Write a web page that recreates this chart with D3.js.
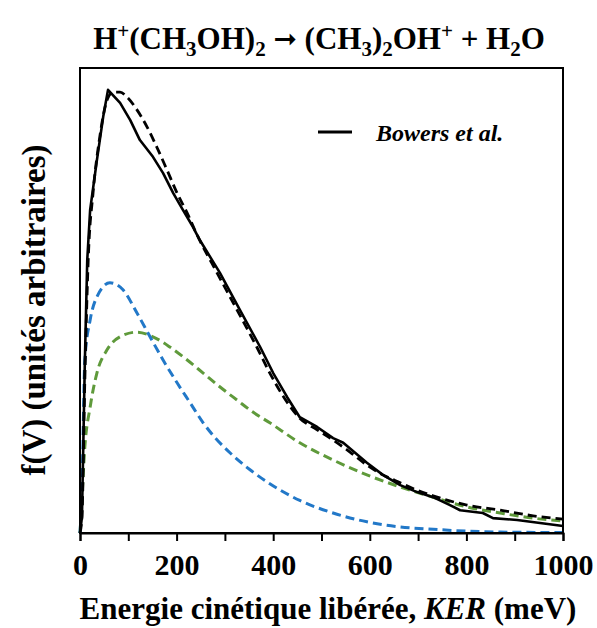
<!DOCTYPE html>
<html>
<head>
<meta charset="utf-8">
<script src="https://cdn.jsdelivr.net/npm/d3@7"></script>
<style>
  html, body { margin: 0; padding: 0; background: #fff; }
  svg { display: block; }
  text { font-family: "Liberation Serif", "Times New Roman", serif; font-weight: bold; fill: #000; }
</style>
</head>
<body>
<svg id="chart" width="597" height="628"></svg>
<script>
// ---- Data ----
const xTickValues = [0, 100, 200, 300, 400, 500, 600, 700, 800, 900, 1000];
const xTickLabels = ["0", "", "200", "", "400", "", "600", "", "800", "", "1000"];

// Bowers et al. (experiment), solid black
const bowersX = [0, 4, 10, 15, 21, 35, 48, 58, 83, 104, 124, 151, 172, 193, 213, 234, 248, 290, 331, 373, 400, 429, 455, 491, 524, 545, 594, 627, 663, 698, 731, 766, 787, 834, 855, 905, 1000];
const bowersY = [0, 0.034, 0.366, 0.587, 0.695, 0.802, 0.895, 0.953, 0.925, 0.888, 0.845, 0.809, 0.774, 0.731, 0.695, 0.658, 0.630, 0.559, 0.480, 0.400, 0.344, 0.292, 0.249, 0.228, 0.204, 0.194, 0.151, 0.125, 0.103, 0.088, 0.077, 0.060, 0.049, 0.043, 0.032, 0.028, 0.015];

// Total fit, dashed black
const fitX = [0, 4, 10, 17, 27, 41, 56, 68, 83, 97, 118, 139, 159, 180, 201, 222, 242, 284, 325, 366, 393, 422, 455, 491, 524, 559, 594, 627, 663, 698, 731, 801, 870, 938, 1000];
const fitY = [0, 0.034, 0.329, 0.587, 0.731, 0.852, 0.931, 0.948, 0.948, 0.938, 0.910, 0.873, 0.830, 0.781, 0.731, 0.688, 0.642, 0.559, 0.480, 0.400, 0.344, 0.292, 0.247, 0.222, 0.200, 0.174, 0.146, 0.125, 0.108, 0.092, 0.080, 0.060, 0.049, 0.037, 0.030];

// Component 1, dashed blue
const blueX = [0, 4, 10, 21, 35, 62, 89, 118, 145, 172, 201, 228, 255, 284, 311, 352, 393, 455, 524, 594, 663, 731, 801, 870, 1000];
const blueY = [0, 0.086, 0.372, 0.458, 0.508, 0.538, 0.523, 0.473, 0.422, 0.372, 0.323, 0.280, 0.237, 0.200, 0.172, 0.136, 0.106, 0.070, 0.043, 0.024, 0.013, 0.008, 0.004, 0.002, 0.001];

// Component 2, dashed green
const greenX = [0, 2, 10, 21, 35, 56, 83, 118, 151, 186, 222, 255, 290, 325, 358, 393, 455, 524, 594, 663, 731, 801, 870, 938, 1000];
const greenY = [0, 0.034, 0.185, 0.271, 0.344, 0.394, 0.422, 0.432, 0.422, 0.400, 0.372, 0.344, 0.314, 0.286, 0.260, 0.237, 0.194, 0.157, 0.125, 0.099, 0.077, 0.056, 0.043, 0.032, 0.026];

const yLabel = "f(V) (unités arbitraires)";
const legendLabel = "Bowers et al.";

// ---- Layout ----
const svg = d3.select("#chart");
const pL = 80, pR = 563, pT = 68, pB = 533;

const x = d3.scaleLinear().domain([0, 1000]).range([pL, pR]);
const y = d3.scaleLinear().domain([0, 1]).range([pB, pT]);

const zip = (xs, ys) => xs.map((v, i) => [v, ys[i]]);
const line = d3.line().x(d => x(d[0])).y(d => y(d[1])).curve(d3.curveMonotoneX);

const g = svg.append("g");

// curves
g.append("path").datum(zip(greenX, greenY)).attr("d", line)
  .attr("fill", "none").attr("stroke", "#5f9a3b").attr("stroke-width", 3).attr("stroke-dasharray", "9,5");
g.append("path").datum(zip(blueX, blueY)).attr("d", line)
  .attr("fill", "none").attr("stroke", "#2278c8").attr("stroke-width", 3).attr("stroke-dasharray", "9,5");
g.append("path").datum(zip(bowersX, bowersY)).attr("d", d3.line().x(d => x(d[0])).y(d => y(d[1])))
  .attr("fill", "none").attr("stroke", "#000").attr("stroke-width", 2.6).attr("stroke-linejoin", "round");
g.append("path").datum(zip(fitX, fitY)).attr("d", line)
  .attr("fill", "none").attr("stroke", "#000").attr("stroke-width", 2.8).attr("stroke-dasharray", "9,5");

// frame
svg.append("rect").attr("x", pL).attr("y", pT).attr("width", pR - pL).attr("height", pB - pT)
  .attr("fill", "none").attr("stroke", "#000").attr("stroke-width", 2);

// x axis
const xAxis = d3.axisBottom(x).tickValues(xTickValues).tickSize(8).tickFormat((d, i) => xTickLabels[i]);
const ax = svg.append("g").attr("transform", `translate(0,${pB})`).call(xAxis);
ax.select(".domain").attr("stroke", "#000").attr("stroke-width", 2);
ax.selectAll(".tick line").attr("stroke", "#000").attr("stroke-width", 2);
ax.selectAll(".tick text").attr("font-size", 30).attr("font-family", "Liberation Serif, serif")
  .attr("font-weight", "bold").attr("fill", "#000").attr("dy", null).attr("y", 42);

// title with sub/superscripts
const title = svg.append("text").attr("x", 319).attr("y", 49).attr("text-anchor", "middle").attr("font-size", 31);
const parts = [["H",""],["+","sup"],["(CH",""],["3","sub"],["OH)",""],["2","sub"],[" ",""],["➞","arrow"],[" (CH",""],["3","sub"],[")",""],["2","sub"],["OH",""],["+","sup"],[" + H",""],["2","sub"],["O",""]];
let shift = 0;
parts.forEach(([t, k]) => {
  const ts = title.append("tspan").text(t);
  const target = k === "sub" ? 7 : (k === "sup" ? -11 : (k === "arrow" ? -1 : 0));
  if (k === "sub" || k === "sup") ts.attr("font-size", 21);
  if (k === "arrow") ts.attr("font-family", "DejaVu Sans").attr("font-size", 28);
  ts.attr("dy", target - shift);
  shift = target;
});

// axis labels
svg.append("text").attr("x", 328).attr("y", 619).attr("text-anchor", "middle").attr("font-size", 31)
  .call(t => {
    t.append("tspan").text("Energie cinétique libérée, ");
    t.append("tspan").attr("font-style", "italic").text("KER");
    t.append("tspan").text(" (meV)");
  });
svg.append("text").attr("transform", `translate(45,310) rotate(-90)`)
  .attr("text-anchor", "middle").attr("font-size", 33).text(yLabel);

// legend
svg.append("line").attr("x1", 318).attr("x2", 352).attr("y1", 132).attr("y2", 132)
  .attr("stroke", "#000").attr("stroke-width", 3);
svg.append("text").attr("x", 376).attr("y", 141).attr("font-size", 24).attr("font-style", "italic").text(legendLabel);
</script>
</body>
</html>
